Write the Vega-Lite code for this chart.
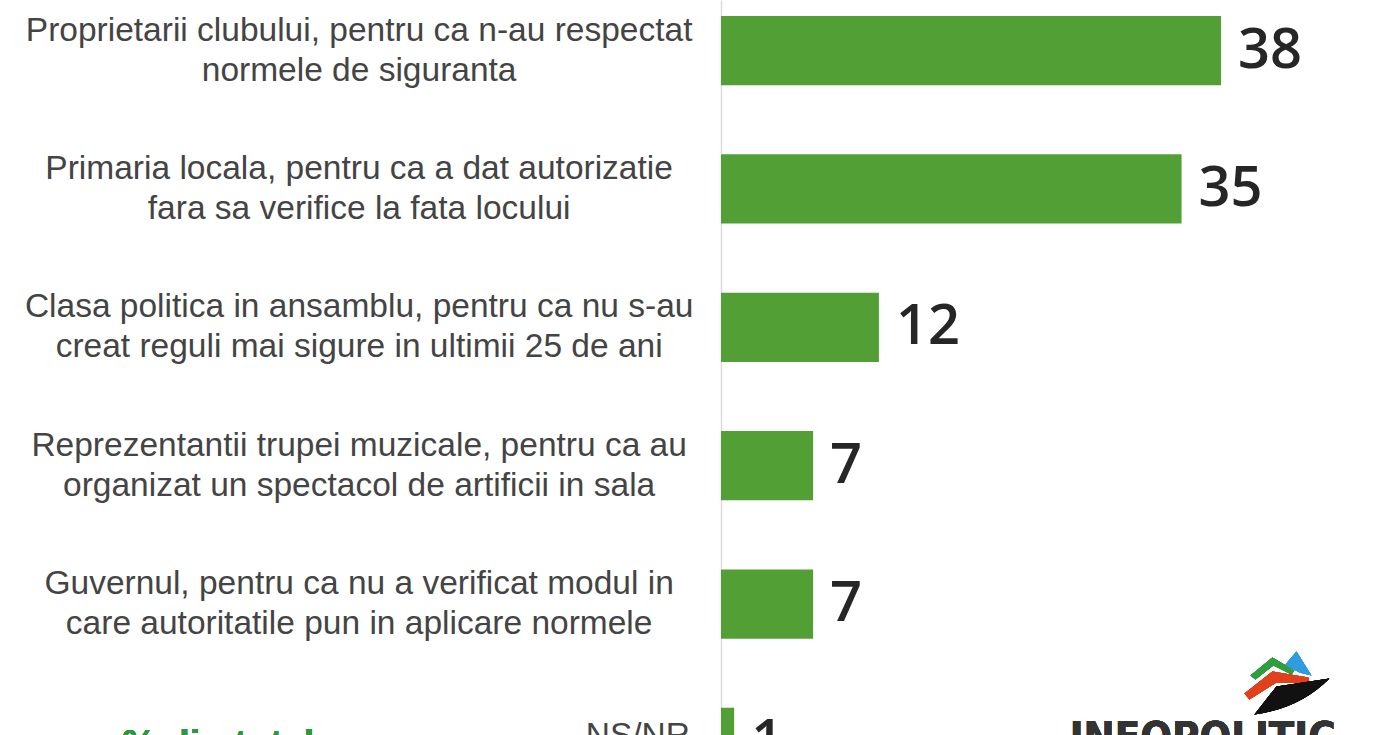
{
  "$schema": "https://vega.github.io/schema/vega-lite/v6.json",
  "width": 679,
  "height": 735,
  "autosize": {"type": "none"},
  "padding": {"left": 721, "top": 0, "right": 0, "bottom": 0},
  "background": "#ffffff",
  "config": {"view": {"stroke": null}},
  "data": {"values": [
    {"motiv": "Proprietarii clubului, pentru ca n-au respectat|normele de siguranta", "procent": 38},
    {"motiv": "Primaria locala, pentru ca a dat autorizatie|fara sa verifice la fata locului", "procent": 35},
    {"motiv": "Clasa politica in ansamblu, pentru ca nu s-au|creat reguli mai sigure in ultimii 25 de ani", "procent": 12},
    {"motiv": "Reprezentantii trupei muzicale, pentru ca au|organizat un spectacol de artificii in sala", "procent": 7},
    {"motiv": "Guvernul, pentru ca nu a verificat modul in|care autoritatile pun in aplicare normele", "procent": 7},
    {"motiv": "NS/NR", "procent": 1}
  ]},
  "encoding": {
    "y": {
      "field": "motiv", "type": "nominal", "sort": null,
      "scale": {"range": [0, 793], "paddingInner": 0.5, "paddingOuter": 0.1156},
      "axis": {
        "title": null, "ticks": false, "grid": false, "labels": false,
        "domain": true, "domainColor": "#dcdcdc", "domainWidth": 1.5
      }
    }
  },
  "layer": [
    {
      "mark": {"type": "bar", "color": "#52a035"},
      "encoding": {
        "x": {"field": "procent", "type": "quantitative", "scale": {"domain": [0, 51.6], "nice": false, "zero": true}, "axis": null}
      }
    },
    {
      "mark": {"type": "text", "align": "left", "baseline": "middle", "dx": 17, "font": "Open Sans", "fontSize": 56, "fontWeight": 600, "color": "#262626"},
      "encoding": {
        "x": {"field": "procent", "type": "quantitative"},
        "text": {"field": "procent", "type": "quantitative"}
      }
    },
    {
      "transform": [{"filter": "datum.motiv !== 'NS/NR'"}],
      "mark": {"type": "text", "align": "center", "baseline": "middle", "dy": -20, "lineBreak": "|", "lineHeight": 40, "font": "Liberation Sans", "fontSize": 33.5, "color": "#444444"},
      "encoding": {
        "x": {"datum": -27.5},
        "text": {"field": "motiv", "type": "nominal"}
      }
    },
    {
      "transform": [{"filter": "datum.motiv === 'NS/NR'"}],
      "mark": {"type": "text", "align": "right", "baseline": "middle", "dy": -6, "font": "Liberation Sans", "fontSize": 33.5, "color": "#444444"},
      "encoding": {
        "x": {"datum": -2.36},
        "text": {"field": "motiv", "type": "nominal"}
      }
    },
    {
      "mark": {"type": "text", "align": "left", "baseline": "middle", "dy": 4, "font": "Liberation Sans", "fontSize": 38, "fontWeight": "bold", "color": "#2a9a3a", "text": "% din total"},
      "encoding": {
        "x": {"datum": -45.5},
        "y": {"datum": "NS/NR"}
      }
    },
    {
      "mark": {"type": "text", "align": "center", "baseline": "top", "dy": -24, "font": "DejaVu Sans Condensed", "fontSize": 41.5, "fontWeight": "bold", "color": "#333333", "text": "INFOPOLITIC"},
      "encoding": {
        "x": {"datum": 36.6},
        "y": {"datum": "NS/NR"}
      }
    },
    {
      "mark": {"type": "point", "filled": true, "opacity": 1, "size": 10000, "color": "#2e9e3e", "shape": "M-0.78,-1.34L-0.34,-1.7L0.1,-1.44L0.04,-1.36L-0.32,-1.54L-0.68,-1.26Z"},
      "encoding": {"x": {"datum": 43.2}, "y": {"datum": "NS/NR"}}
    },
    {
      "mark": {"type": "point", "filled": true, "opacity": 1, "size": 10000, "color": "#2f9be0", "shape": "M-0.08,-1.56L0.14,-1.82L0.44,-1.34L0.2,-1.4Z"},
      "encoding": {"x": {"datum": 43.2}, "y": {"datum": "NS/NR"}}
    },
    {
      "mark": {"type": "point", "filled": true, "opacity": 1, "size": 10000, "color": "#e0401c", "shape": "M-0.9,-0.98L-0.34,-1.42L0.38,-1.3L0.4,-1.2L-0.26,-1.2L-0.8,-0.86Z"},
      "encoding": {"x": {"datum": 43.2}, "y": {"datum": "NS/NR"}}
    },
    {
      "mark": {"type": "point", "filled": true, "opacity": 1, "size": 10000, "color": "#111111", "shape": "M-0.7,-0.56L-0.26,-1.12L0.8,-1.28Q0.2,-0.68 -0.7,-0.56Z"},
      "encoding": {"x": {"datum": 43.2}, "y": {"datum": "NS/NR"}}
    }
  ]
}
